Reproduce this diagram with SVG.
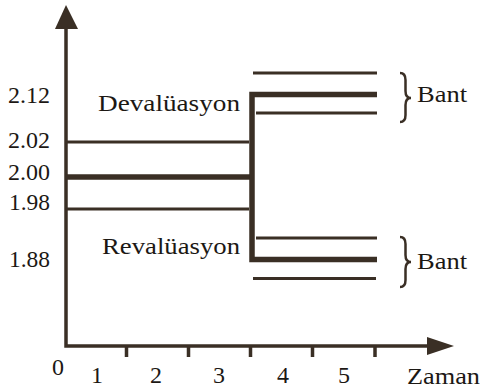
<svg xmlns="http://www.w3.org/2000/svg" width="481" height="389" viewBox="0 0 481 389">
<style>
.t{font-family:"Liberation Serif","Times New Roman",serif;font-size:24px;fill:#1c1814}
.ax{stroke:#3a2f25;stroke-width:3.5;fill:none}
.thin{stroke:#3a2f25;stroke-width:3;fill:none}
.thick{stroke:#3a2f25;stroke-width:5.5;fill:none}
.br{stroke:#3a2f25;stroke-width:2.5;fill:none}
.head{fill:#3a2f25}
</style>
<rect width="481" height="389" fill="#ffffff"/>
<g id="axes">
<path class="ax" d="M66,24 L66,346 L432,346"/>
<polygon class="head" points="66,5 55,29 78,29"/>
<polygon class="head" points="454,346 427,337 427,355"/>
<path class="ax" d="M126.5,346 V357 M188.5,346 V357 M250.5,346 V357 M312.5,346 V357 M375,346 V357"/>
</g>
<g id="y-labels">
<text class="t" x="8" y="103" textLength="42" lengthAdjust="spacingAndGlyphs">2.12</text>
<text class="t" x="8" y="148" textLength="42" lengthAdjust="spacingAndGlyphs">2.02</text>
<text class="t" x="8" y="180" textLength="42" lengthAdjust="spacingAndGlyphs">2.00</text>
<text class="t" x="9" y="210" textLength="41" lengthAdjust="spacingAndGlyphs">1.98</text>
<text class="t" x="9" y="267" textLength="41" lengthAdjust="spacingAndGlyphs">1.88</text>
</g>
<g id="x-labels">
<text class="t" x="52" y="375">0</text>
<text class="t" x="91" y="383">1</text>
<text class="t" x="150" y="383">2</text>
<text class="t" x="213" y="383">3</text>
<text class="t" x="277" y="383">4</text>
<text class="t" x="338" y="383">5</text>
<text class="t" x="407" y="384" textLength="73" lengthAdjust="spacingAndGlyphs">Zaman</text>
</g>
<g id="connectors">
<path class="thin" d="M66,142 H249"/>
<path class="thick" d="M66,177 H250"/>
<path class="thin" d="M66,209 H249"/>
<path class="thick" d="M377,94.5 H252 V259.5 H377"/>
<path class="thin" d="M253,73 H377"/>
<path class="thin" d="M256,113 H377"/>
<path class="thin" d="M256,238 H377"/>
<path class="thin" d="M253,278.5 H376"/>
</g>
<g id="devaluasyon">
<text class="t" x="98" y="111" textLength="142" lengthAdjust="spacingAndGlyphs">Devalüasyon</text>
</g>
<g id="revaluasyon">
<text class="t" x="102" y="254" textLength="138" lengthAdjust="spacingAndGlyphs">Revalüasyon</text>
</g>
<g id="bant-upper">
<path class="br" d="M400,73 Q405.5,73 405.5,80 L405.5,91 Q405.5,98 411,98 Q405.5,98 405.5,105 L405.5,115 Q405.5,122 400,122"/>
<text class="t" x="417" y="102" textLength="50" lengthAdjust="spacingAndGlyphs">Bant</text>
</g>
<g id="bant-lower">
<path class="br" d="M400,237 Q405.5,237 405.5,244 L405.5,255 Q405.5,262 411,262 Q405.5,262 405.5,269 L405.5,280 Q405.5,287 400,287"/>
<text class="t" x="417" y="269" textLength="50" lengthAdjust="spacingAndGlyphs">Bant</text>
</g>
</svg>
